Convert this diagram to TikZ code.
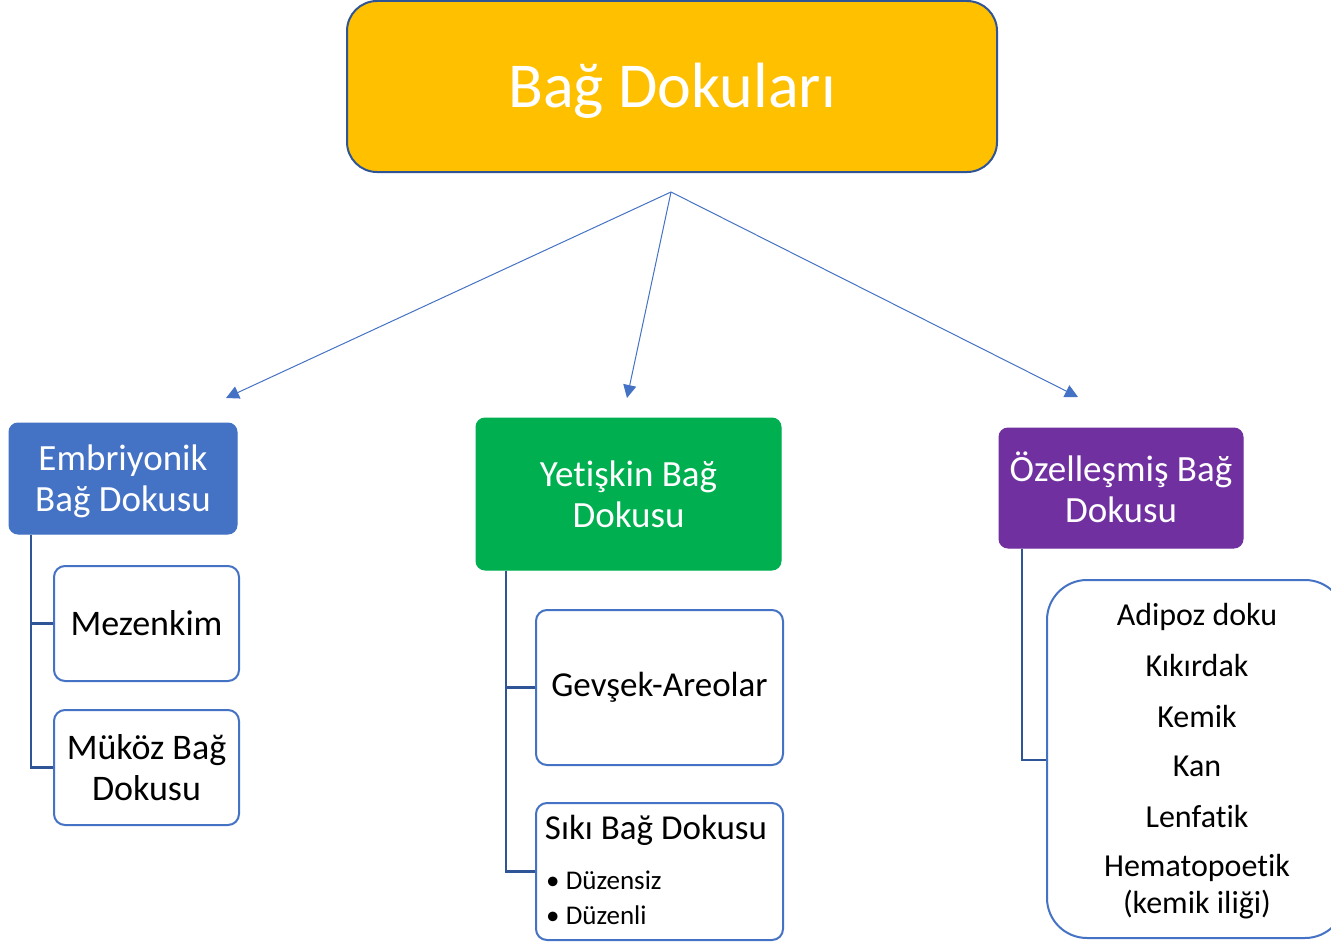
\documentclass[tikz,border=0pt]{standalone}
\usepackage{fontspec}
\setmainfont[Ligatures={NoCommon,NoContextual}]{Carlito}
\usetikzlibrary{arrows.meta}
\definecolor{gold}{HTML}{FFC000}
\definecolor{mblue}{HTML}{4472C4}
\definecolor{mgreen}{HTML}{00B050}
\definecolor{mpurple}{HTML}{7030A0}
\definecolor{dblue}{HTML}{2F5597}
\newcommand{\nolig}{\kern0pt}
\tikzset{
  topbox/.style={draw=dblue, line width=2pt, fill=gold, rounded corners=30pt},
  catbox/.style={draw=#1, line width=1pt, fill=#1, rounded corners=9pt, text=white, align=center, font=\fontsize{37}{41}\selectfont, inner sep=0pt},
  subbox/.style={draw=mblue, line width=2pt, fill=white, rounded corners=11pt, align=center, inner sep=0pt, font=\fontsize{36}{41}\selectfont},
  treeline/.style={draw=dblue, line width=2.5pt},
  arrowline/.style={draw=mblue, line width=1pt, -{Triangle[length=13pt,width=13pt]}},
  itemtext/.style={font=\fontsize{32}{37}\selectfont, align=center, inner sep=0pt},
  bultext/.style={font=\fontsize{27}{30}\selectfont, anchor=west, inner sep=0pt},
  whitetext/.style={text=white, align=center, inner sep=0pt, font=\fontsize{37}{41}\selectfont}
}
\begin{document}
\begin{tikzpicture}[x=1pt,y=-1pt]
\useasboundingbox (0,0) rectangle (1331,942);
\clip (0,0) rectangle (1331,942);
% top
\node[topbox, minimum width=650pt, minimum height=171pt] (top) at (672,86.5) {};
\node[whitetext, font=\fontsize{64}{70}\selectfont] (toptext) at (672,91) {Bağ Dokuları};
% categories
\node[catbox=mblue, minimum width=228pt, minimum height=111pt] (emb) at (123,478.5) {};
\node[whitetext] (embt) at (123,481) {Embriyonik\\Bağ Dokusu};
\node[catbox=mgreen, minimum width=305pt, minimum height=152pt] (yet) at (628.5,494) {Yet\nolig işkin Bağ\\Dokusu};
\node[catbox=mpurple, minimum width=244pt, minimum height=120pt] (oze) at (1121,488) {};
\node[whitetext] (ozet) at (1121,487) {Özelleşmiş Bağ\\Dokusu};
% arrows
\coordinate (hub) at (671,192);
\coordinate (a1) at (226,398);
\coordinate (a2) at (627,398);
\coordinate (a3) at (1078,397);
\draw[arrowline] (hub) -- (a1);
\draw[arrowline] (hub) -- (a2);
\draw[arrowline] (hub) -- (a3);
% left subboxes
\node[subbox, minimum width=185pt, minimum height=115pt] (mez) at (146.5,623.5) {Mezenkim};
\node[subbox, minimum width=185pt, minimum height=115pt] (muk) at (146.5,767.5) {Müköz Bağ\\Dokusu};
% middle subboxes
\node[subbox, minimum width=247pt, minimum height=155pt, font=\fontsize{35}{40}\selectfont] (gev) at (659.5,687.5) {Gevşek-Areolar};
\node[subbox, minimum width=247pt, minimum height=137pt] (sik) at (659.5,871.5) {};
\node[font=\fontsize{35}{40}\selectfont, inner sep=0pt] (sikt) at (656,830) {Sıkı Bağ Dokusu};
\node[bultext] (b1) at (546,880) {• Düzensiz};
\node[bultext] (b2) at (546,915) {• Düzenli};
% right box
\node[subbox, rounded corners=40pt, minimum width=298pt, minimum height=358pt] (spec) at (1196,759) {};
\node[itemtext] (i1) at (1197,617) {Adipoz doku};
\node[itemtext] (i2) at (1197,666) {Kıkırdak};
\node[itemtext] (i3) at (1197,716) {Kemik};
\node[itemtext] (i4) at (1197,766) {Kan};
\node[itemtext] (i5) at (1197,816) {Lenfat\nolig ik};
\node[itemtext] (i6) at (1197,887) {Hematopoet\nolig ik\\(kemik iliği)};
% tree lines
\draw[treeline] (emb.south -| 31,0) |- (mez.west);
\draw[treeline] (emb.south -| 31,0) |- (muk.west);
\draw[treeline] (yet.south -| 506,0) |- (gev.west);
\draw[treeline] (yet.south -| 506,0) |- (sik.west);
\draw[treeline] (oze.south -| 1022,0) |- (spec.west |- 0,760);
\end{tikzpicture}
\end{document}
